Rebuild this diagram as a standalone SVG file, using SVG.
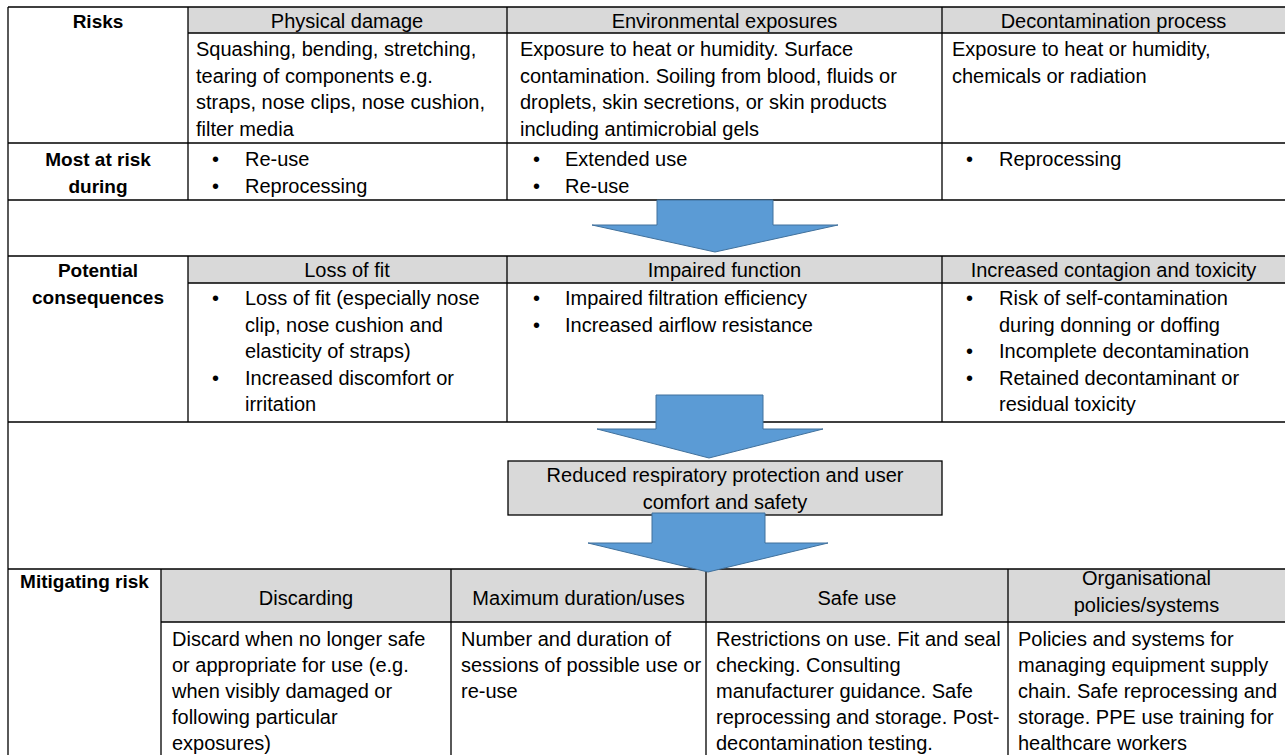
<svg xmlns="http://www.w3.org/2000/svg" width="1285" height="755" viewBox="0 0 1285 755">
<style>
.t{font-family:"Liberation Sans",Arial,sans-serif;font-size:20px;fill:#000}
.c{text-anchor:middle}
.b{font-weight:bold;font-size:19px}
.hdr{fill:#d9d9d9}
.ln{stroke:#000;stroke-width:1.3;fill:none}
.arr{fill:#5b9bd5;stroke:#41719c;stroke-width:1}
.box{fill:#d9d9d9;stroke:#000;stroke-width:1.3}
</style>
<rect width="1285" height="755" fill="#fff"/>
<g id="grid">
<rect class="hdr" x="188" y="7" width="1100" height="26"/>
<rect class="hdr" x="188" y="256" width="1100" height="27"/>
<rect class="hdr" x="161" y="569" width="1127" height="53"/>
<path class="ln" d="M8,7H1290M188,33H1290M8,143H1290M8,200H1290M8,256H1290M188,283H1290M8,422H1290M8,569H1290M161,622H1290M8,7V760M188,7V200M507,7V200M942,7V200M188,256V422M507,256V422M942,256V422M161,569V760M451,569V760M706,569V760M1008,569V760"/>
</g>
<g id="row-risks">
<text class="t b c" x="98" y="28">Risks</text>
<text class="t c" x="347" y="28">Physical damage</text>
<text class="t c" x="724.5" y="28">Environmental exposures</text>
<text class="t c" x="1113.5" y="28">Decontamination process</text>
<text class="t" x="196" y="56"><tspan x="196">Squashing, bending, stretching,</tspan><tspan x="196" dy="26.5">tearing of components e.g.</tspan><tspan x="196" dy="26.5">straps, nose clips, nose cushion,</tspan><tspan x="196" dy="26.5">filter media</tspan></text>
<text class="t" x="520" y="56"><tspan x="520">Exposure to heat or humidity. Surface</tspan><tspan x="520" dy="26.5">contamination. Soiling from blood, fluids or</tspan><tspan x="520" dy="26.5">droplets, skin secretions, or skin products</tspan><tspan x="520" dy="26.5">including antimicrobial gels</tspan></text>
<text class="t" x="952" y="56"><tspan x="952">Exposure to heat or humidity,</tspan><tspan x="952" dy="26.5">chemicals or radiation</tspan></text>
</g>
<g id="row-most-at-risk">
<text class="t b c" x="98" y="166"><tspan x="98">Most at risk</tspan><tspan x="98" dy="26.5">during</tspan></text>
<text class="t" x="212" y="166"><tspan x="212">•</tspan><tspan x="245">Re-use</tspan><tspan x="212" dy="26.5">•</tspan><tspan x="245">Reprocessing</tspan></text>
<text class="t" x="533" y="166"><tspan x="533">•</tspan><tspan x="565">Extended use</tspan><tspan x="533" dy="26.5">•</tspan><tspan x="565">Re-use</tspan></text>
<text class="t" x="966" y="166"><tspan x="966">•</tspan><tspan x="999">Reprocessing</tspan></text>
</g>
<g id="row-consequences">
<text class="t b c" x="98" y="277"><tspan x="98">Potential</tspan><tspan x="98" dy="26.5">consequences</tspan></text>
<text class="t c" x="347" y="277">Loss of fit</text>
<text class="t c" x="724.5" y="277">Impaired function</text>
<text class="t c" x="1113.5" y="277">Increased contagion and toxicity</text>
<text class="t" x="212" y="305"><tspan x="212">•</tspan><tspan x="245">Loss of fit (especially nose</tspan><tspan x="245" dy="26.5">clip, nose cushion and</tspan><tspan x="245" dy="26.5">elasticity of straps)</tspan><tspan x="212" dy="26.5">•</tspan><tspan x="245">Increased discomfort or</tspan><tspan x="245" dy="26.5">irritation</tspan></text>
<text class="t" x="533" y="305"><tspan x="533">•</tspan><tspan x="565">Impaired filtration efficiency</tspan><tspan x="533" dy="26.5">•</tspan><tspan x="565">Increased airflow resistance</tspan></text>
<text class="t" x="966" y="305"><tspan x="966">•</tspan><tspan x="999">Risk of self-contamination</tspan><tspan x="999" dy="26.5">during donning or doffing</tspan><tspan x="966" dy="26.5">•</tspan><tspan x="999">Incomplete decontamination</tspan><tspan x="966" dy="26.5">•</tspan><tspan x="999">Retained decontaminant or</tspan><tspan x="999" dy="26.5">residual toxicity</tspan></text>
</g>
<g id="outcome">
<rect class="box" x="508" y="461" width="434" height="54"/>
<text class="t c" x="725" y="482"><tspan x="725">Reduced respiratory protection and user</tspan><tspan x="725" dy="26.5">comfort and safety</tspan></text>
</g>
<g id="row-mitigating">
<text class="t b c" x="84.5" y="588">Mitigating risk</text>
<text class="t c" x="306" y="605">Discarding</text>
<text class="t c" x="578.5" y="605">Maximum duration/uses</text>
<text class="t c" x="857" y="605">Safe use</text>
<text class="t c" x="1146.5" y="585"><tspan x="1146.5">Organisational</tspan><tspan x="1146.5" dy="26.5">policies/systems</tspan></text>
<text class="t" x="172" y="646"><tspan x="172">Discard when no longer safe</tspan><tspan x="172" dy="26">or appropriate for use (e.g.</tspan><tspan x="172" dy="26">when visibly damaged or</tspan><tspan x="172" dy="26">following particular</tspan><tspan x="172" dy="26">exposures)</tspan></text>
<text class="t" x="461" y="646"><tspan x="461">Number and duration of</tspan><tspan x="461" dy="26">sessions of possible use or</tspan><tspan x="461" dy="26">re-use</tspan></text>
<text class="t" x="716" y="646"><tspan x="716">Restrictions on use. Fit and seal</tspan><tspan x="716" dy="26">checking. Consulting</tspan><tspan x="716" dy="26">manufacturer guidance. Safe</tspan><tspan x="716" dy="26">reprocessing and storage. Post-</tspan><tspan x="716" dy="26">decontamination testing.</tspan></text>
<text class="t" x="1018" y="646"><tspan x="1018">Policies and systems for</tspan><tspan x="1018" dy="26">managing equipment supply</tspan><tspan x="1018" dy="26">chain. Safe reprocessing and</tspan><tspan x="1018" dy="26">storage. PPE use training for</tspan><tspan x="1018" dy="26">healthcare workers</tspan></text>
</g>
<g id="connectors">
<polygon class="arr" points="657,200 773,200 773,225 838,225 715,252 592,225 657,225"/>
<polygon class="arr" points="656,395 763,395 763,429 823,429 709,458 597,429 656,429"/>
<polygon class="arr" points="652,513 765,513 765,543 828,543 708,572 588,543 652,543"/>
</g>
</svg>
